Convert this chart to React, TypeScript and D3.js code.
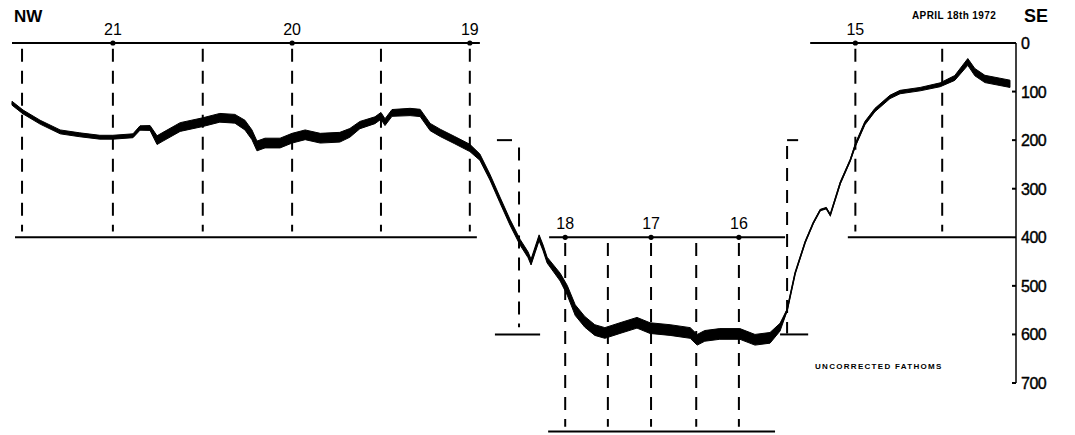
import React from "react";
import * as d3 from "d3";

// echo sounding profile, distance along track (arbitrary units) vs uncorrected fathoms
const profileDist = [
  0, 2.2, 5.6, 9.6, 13.5, 17.5, 20.1, 24.1, 25.5, 27.5, 28.9, 29.9, 33.5, 38.0, 41.4, 44.4,
  46.4, 47.8, 48.8, 50.4, 53.4, 55.8, 58.4, 61.4, 65.3, 67.3, 69.3, 72.3, 73.5, 74.3, 75.7,
  79.3, 81.3, 83.3, 85.3, 88.2, 91.2, 93.2, 95.2, 97.2, 99.2, 101.2, 102.8, 103.4, 104.2,
  105.0, 105.8, 106.6, 109.2, 110.6, 112.2, 114.1, 116.1, 118.1, 121.1, 124.5, 127.1, 131.1,
  135.1, 136.5, 138.0, 141.0, 145.0, 148.0, 151.0, 153.0, 154.4, 156.0, 158.0, 159.6, 161.0,
  162.2, 163.0, 165.0, 167.0, 168.0, 169.9, 171.9, 174.9, 176.9, 180.9, 184.9, 187.8, 190.4,
  191.8, 193.8, 196.8, 198.8,
];
const profileDepth = [
  124, 142, 163, 183, 189, 194, 194, 191, 175, 175, 200, 194, 173, 163, 154, 156,
  169, 189, 212, 206, 206, 196, 189, 196, 194, 185, 169, 159, 150, 163, 144,
  142, 144, 173, 185, 200, 216, 235, 276, 323, 369, 410, 436, 451, 426,
  401, 422, 447, 482, 509, 550, 574, 591, 597, 587, 576, 587, 591,
  597, 611, 603, 599, 599, 611, 607, 585, 550, 474, 410, 371, 344,
  340, 354, 288, 241, 210, 165, 138, 111, 101, 95, 86, 72, 39,
  60, 74, 80, 84,
];
// width of the recorded trace, fathoms
const traceWidth = [
  8, 8, 8, 8, 8, 8, 8, 8, 9, 10, 18, 18, 18, 18, 18, 18,
  20, 20, 20, 20, 20, 20, 20, 20, 20, 18, 15, 14, 14, 14, 14,
  15, 15, 15, 15, 15, 15, 13, 12, 12, 12, 12, 12, 12, 12,
  12, 12, 12, 16, 20, 22, 22, 22, 22, 22, 22, 22, 22,
  22, 22, 22, 22, 22, 22, 22, 16, 4, 3, 3, 3, 3,
  3, 3, 4, 4, 6, 7, 7, 7, 7, 7, 8, 10, 14,
  15, 15, 15, 15,
];

const stationNames = ["21", "20", "19", "18", "17", "16", "15"];
const stationDist = [20.1, 55.8, 91.2, 110.2, 127.3, 144.8, 168.0];
const stationDepth = [0, 0, 0, 400, 400, 400, 0];

// solid frame rules
const ruleFrom = [0, 0.6, 96.6, 96.2, 107.0, 106.8, 154.4, 153.0, 159.0, 166.5];
const ruleTo = [93.2, 92.6, 99.6, 105.2, 154.0, 152.0, 156.6, 158.6, 200, 199.2];
const ruleDepth = [0, 400, 200, 600, 400, 800, 200, 600, 0, 400];

// dashed verticals
const gridDist = [2.0, 20.1, 38.0, 55.8, 73.5, 91.2, 101.0, 110.2, 118.7, 127.3, 136.3, 144.8, 154.4, 168.0, 185.3];
const gridTop = [12, 12, 12, 12, 12, 12, 215, 412, 412, 412, 412, 412, 212, 12, 12];
const gridBottom = [388, 388, 388, 388, 388, 388, 585, 790, 790, 790, 790, 790, 598, 388, 388];

const depthTicks = [0, 100, 200, 300, 400, 500, 600, 700];

const W = 1075;
const H = 435;

export default function App() {
  const x = d3.scaleLinear().domain([0, 200]).range([12, 1016]);
  const y = d3.scaleLinear().domain([0, 700]).range([43, 383]);

  const idx = d3.range(profileDist.length);
  const band = d3
    .area<number>()
    .x((i) => x(profileDist[i]))
    .y0((i) => y(profileDepth[i] - traceWidth[i] / 2))
    .y1((i) => y(profileDepth[i] + traceWidth[i] / 2));
  const mid = d3
    .line<number>()
    .x((i) => x(profileDist[i]))
    .y((i) => y(profileDepth[i]));

  const font = "'Liberation Sans', Arial, sans-serif";

  return (
    <svg
      width={W}
      height={H}
      style={{ position: "absolute", left: 0, top: 0, background: "#fff" }}
      fontFamily={font}
    >
      {/* frame rules */}
      {ruleFrom.map((f, i) => (
        <line
          key={"r" + i}
          x1={x(f)}
          x2={x(ruleTo[i])}
          y1={y(ruleDepth[i])}
          y2={y(ruleDepth[i])}
          stroke="#000"
          strokeWidth={2}
        />
      ))}

      {/* dashed station verticals */}
      {gridDist.map((g, i) => (
        <line
          key={"g" + i}
          x1={x(g)}
          x2={x(g)}
          y1={y(gridTop[i])}
          y2={y(gridBottom[i])}
          stroke="#000"
          strokeWidth={2}
          strokeDasharray="13 9"
        />
      ))}

      {/* stations */}
      {stationNames.map((s, i) => (
        <g key={"s" + i}>
          <circle cx={x(stationDist[i])} cy={y(stationDepth[i])} r={2.6} fill="#000" />
          <text
            x={x(stationDist[i])}
            y={y(stationDepth[i]) - 8}
            textAnchor="middle"
            fontSize={16}
            fill="#000"
          >
            {s}
          </text>
        </g>
      ))}

      {/* profile trace */}
      <path d={band(idx) ?? ""} fill="#000" stroke="#000" strokeWidth={1} />
      <path d={mid(idx) ?? ""} fill="none" stroke="#000" strokeWidth={1.6} />

      {/* depth axis */}
      <line x1={x(200)} x2={x(200)} y1={y(0)} y2={y(700)} stroke="#000" strokeWidth={1.5} />
      {depthTicks.map((t) => (
        <g key={"t" + t}>
          <line x1={x(200) - 4} x2={x(200)} y1={y(t)} y2={y(t)} stroke="#000" strokeWidth={2} />
          <text
            x={x(200) + 5}
            y={y(t) + 6}
            fontSize={16}
            fill="#000"
            letterSpacing={-0.5}
            stroke="#000"
            strokeWidth={0.4}
          >
            {t}
          </text>
        </g>
      ))}

      <text x={14} y={22} fontSize={17} fontWeight="bold" fill="#000">
        NW
      </text>
      <text x={1024} y={22} fontSize={18} fontWeight="bold" fill="#000">
        SE
      </text>
      <text x={912} y={19} fontSize={10} fontWeight="bold" fill="#000" letterSpacing={0.4}>
        APRIL 18th 1972
      </text>
      <text x={815} y={369} fontSize={8} fontWeight="bold" fill="#000" letterSpacing={1.3}>
        UNCORRECTED FATHOMS
      </text>
    </svg>
  );
}
